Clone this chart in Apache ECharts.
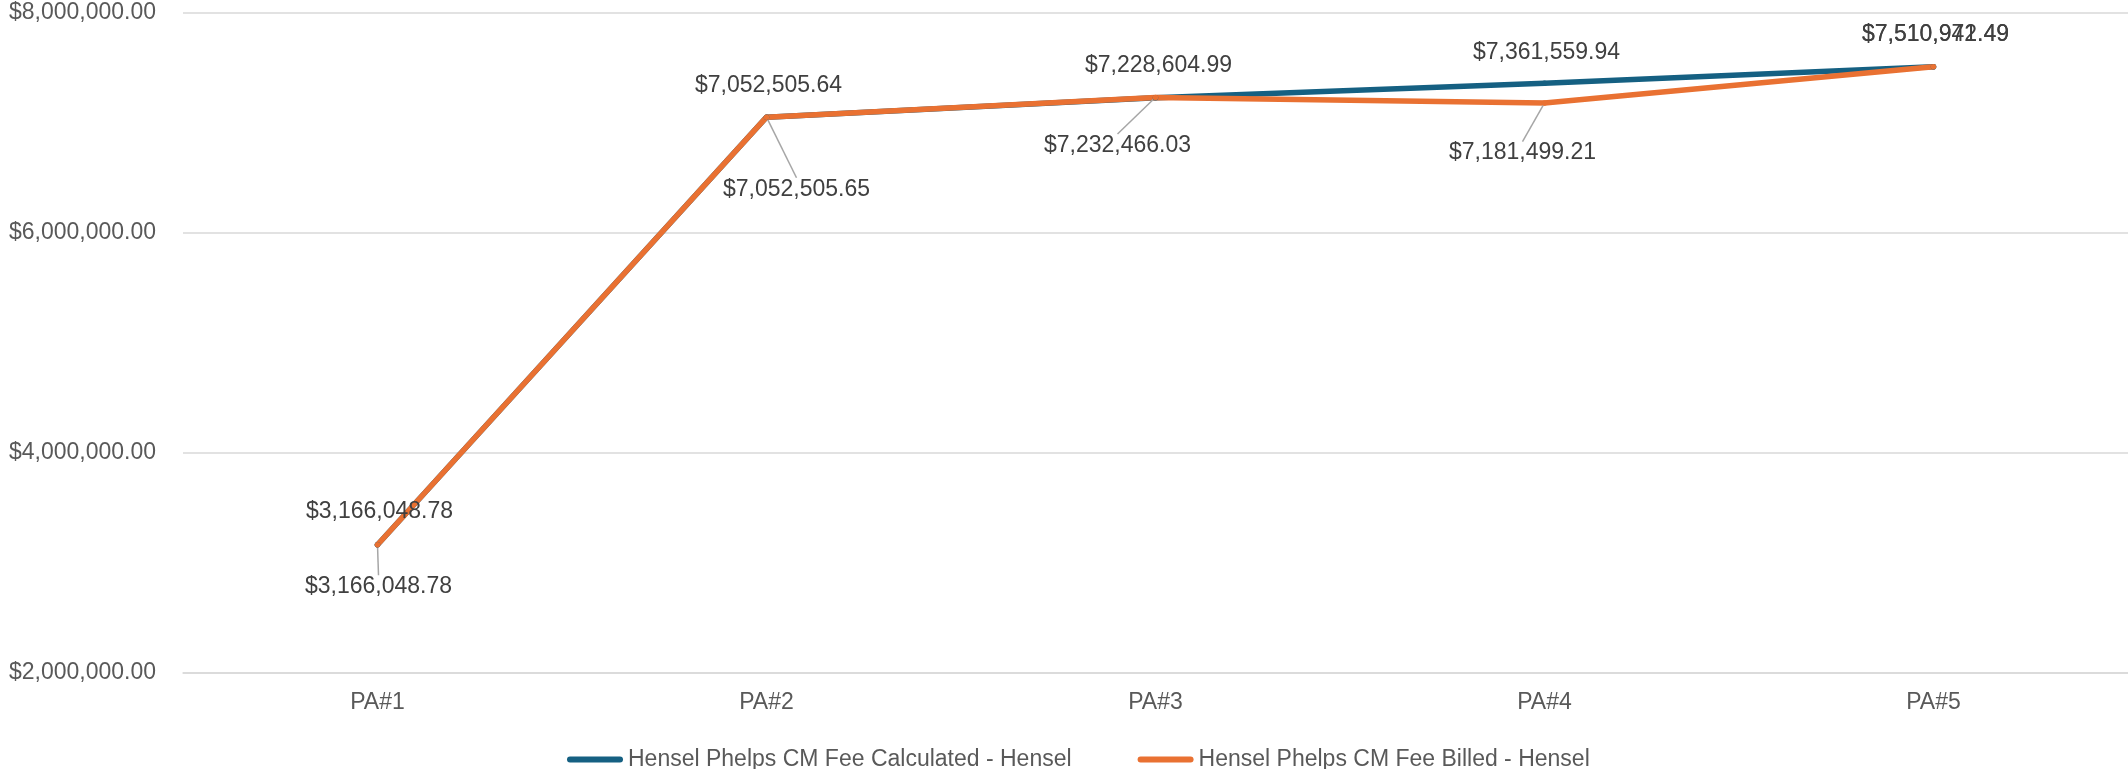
<!DOCTYPE html>
<html>
<head>
    <meta charset="utf-8">
    <style>
        html, body {
            height: 100%;
        }

        * {
            margin: 0;
            padding: 0;
        }

        #container {
            width: 2128px;
            height: 769px;
            background: #ffffff;
        }
    </style>
</head>
<body>
<div id="container"></div>
<script type="text/javascript" src="https://cdn.jsdelivr.net/npm/echarts@6/dist/echarts.min.js"></script>
<script type="text/javascript">
    // data
    let categories = ['PA#1', 'PA#2', 'PA#3', 'PA#4', 'PA#5'];
    let calculated = [3166048.78, 7052505.64, 7228604.99, 7361559.94, 7510972.49];
    let billed = [3166048.78, 7052505.65, 7232466.03, 7181499.21, 7510941.49];
    let seriesNames = ['Hensel Phelps CM Fee Calculated - Hensel', 'Hensel Phelps CM Fee Billed - Hensel'];
    let yTicks = [2000000, 4000000, 6000000, 8000000];

    // label offsets from the point (label centre), px
    let calcOffsets = [[2, -33], [2, -32], [3, -32], [2, -31], [2, -32]];
    let billedOffsets = [[1, 42], [30, 72], [-38, 48], [-22, 50], [2, -32]];

    let dom = document.getElementById("container");
    let myChart = echarts.init(dom, null, {renderer: 'canvas'});

    let font = 'Liberation Sans, Arial, sans-serif';

    function money(v) {
        return '$' + v.toLocaleString('en-US', {minimumFractionDigits: 2, maximumFractionDigits: 2});
    }

    function layoutWith(offsets) {
        return function (params) {
            let o = offsets[params.dataIndex];
            return {
                x: params.rect.x + params.rect.width / 2 + o[0],
                y: params.rect.y + params.rect.height / 2 + o[1],
                align: 'center',
                verticalAlign: 'middle'
            };
        };
    }

    let labelStyle = {
        show: true,
        position: 'top',
        color: '#404040',
        fontSize: 23,
        fontFamily: font,
        formatter: function (p) {
            return money(p.value);
        }
    };

    let billedData = billed.map(function (v, i) {
        // last point has no leader line
        return i === billed.length - 1 ? {value: v, labelLine: {show: false}} : v;
    });

    let option = {
        animation: false,
        backgroundColor: '#ffffff',
        grid: {
            left: 183,
            right: 0,
            top: 13,
            bottom: 96
        },
        legend: {
            top: 743,
            left: 562,
            icon: 'path://M3,0 L53,0 A3,3 0 0 1 53,6 L3,6 A3,3 0 0 1 3,0 Z',
            itemWidth: 56,
            itemHeight: 6,
            itemGap: 66,
            textStyle: {
                color: '#595959',
                fontSize: 23,
                fontFamily: font
            },
            data: seriesNames
        },
        xAxis: {
            type: 'category',
            data: categories,
            boundaryGap: true,
            axisTick: {show: false},
            axisLine: {lineStyle: {color: '#d9d9d9', width: 1.5}},
            axisLabel: {
                color: '#595959',
                fontSize: 23,
                margin: 18,
                fontFamily: font
            }
        },
        yAxis: {
            type: 'value',
            min: yTicks[0],
            max: yTicks[yTicks.length - 1],
            interval: yTicks[1] - yTicks[0],
            axisLine: {show: false},
            axisTick: {show: false},
            splitLine: {lineStyle: {color: '#d9d9d9', width: 1.5}},
            axisLabel: {
                color: '#595959',
                fontSize: 23,
                margin: 27,
                fontFamily: font,
                formatter: function (v) {
                    return money(v);
                }
            }
        },
        series: [{
            name: seriesNames[0],
            type: 'line',
            data: calculated,
            symbol: 'circle',
            symbolSize: 5.5,
            showSymbol: true,
            color: '#156082',
            lineStyle: {width: 5.5, color: '#156082', cap: 'round', join: 'round'},
            itemStyle: {color: '#156082'},
            label: labelStyle,
            labelLayout: layoutWith(calcOffsets)
        }, {
            name: seriesNames[1],
            type: 'line',
            data: billedData,
            symbol: 'circle',
            symbolSize: 5.5,
            showSymbol: true,
            color: '#E97132',
            lineStyle: {width: 5.5, color: '#E97132', cap: 'round', join: 'round'},
            itemStyle: {color: '#E97132'},
            label: labelStyle,
            labelLine: {
                show: true,
                length2: 0,
                lineStyle: {color: '#a6a6a6', width: 1.5}
            },
            labelLayout: layoutWith(billedOffsets)
        }]
    };
    if (option && typeof option === "object") {
        myChart.setOption(option, true);
    }
</script>
</body>
</html>
